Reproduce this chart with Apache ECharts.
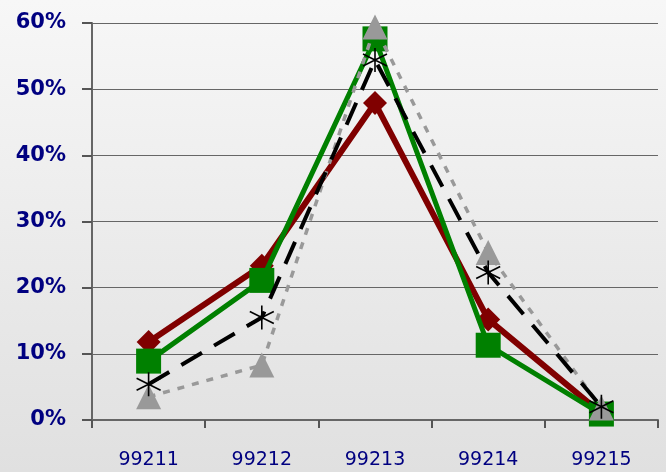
<!DOCTYPE html>
<html>
<head>
<meta charset="utf-8">
<script src="https://cdn.jsdelivr.net/npm/echarts@6/dist/echarts.min.js"></script>
<style>
  html, body { margin: 0; padding: 0; }
  #chart { width: 666px; height: 472px; }
</style>
</head>
<body>
<div id="chart"></div>
<script>
const categories = ['99211', '99212', '99213', '99214', '99215']
const yTicks = [0, 10, 20, 30, 40, 50, 60]
const redValues = [11.8, 23.3, 47.9, 15.2, 1.0]
const greenValues = [8.9, 21.1, 57.6, 11.3, 0.9]
const blackValues = [5.4, 15.5, 54.4, 22.3, 2.0]
const grayValues = [3.5, 8.3, 59.4, 25.3, 1.8]

const asterisk = 'path://M0,-12L0,12M-11,-6L11,6M-11,6L11,-6'

const chart = echarts.init(document.getElementById('chart'))

chart.setOption({
  animation: false,
  backgroundColor: {
    type: 'linear', x: 0, y: 0, x2: 0, y2: 1,
    colorStops: [
      { offset: 0, color: '#f7f7f7' },
      { offset: 1, color: '#e0e0e0' }
    ]
  },
  grid: { left: 92, right: 8, top: 23, bottom: 52 },
  xAxis: {
    type: 'category',
    data: categories,
    boundaryGap: true,
    axisLine: { lineStyle: { color: '#666', width: 2 } },
    axisTick: { show: true, length: 8, lineStyle: { color: '#555', width: 2 } },
    axisLabel: {
      margin: 31,
      color: '#000080',
      fontFamily: 'DejaVu Sans',
      fontSize: 19
    },
    splitLine: { show: false }
  },
  yAxis: {
    type: 'value',
    min: yTicks[0],
    max: yTicks[yTicks.length - 1],
    interval: 10,
    axisLine: { show: true, lineStyle: { color: '#666', width: 2 } },
    axisTick: { show: true, inside: false, length: 10, lineStyle: { color: '#555', width: 2 } },
    axisLabel: {
      margin: 26,
      formatter: '{value}%',
      color: '#000080',
      fontFamily: 'DejaVu Sans',
      fontWeight: 'bold',
      fontSize: 21
    },
    splitLine: { lineStyle: { color: '#666', width: 1 } }
  },
  series: [
    {
      type: 'line',
      data: redValues,
      symbol: 'diamond',
      symbolSize: 24,
      lineStyle: { color: '#800000', width: 6 },
      itemStyle: { color: '#800000' },
      z: 2
    },
    {
      type: 'line',
      data: greenValues,
      symbol: 'rect',
      symbolSize: 25,
      lineStyle: { color: '#008000', width: 5 },
      itemStyle: { color: '#008000' },
      z: 3
    },
    {
      type: 'line',
      data: grayValues,
      symbol: 'triangle',
      symbolSize: 25,
      lineStyle: { color: '#999999', width: 3.5, type: [7, 8] },
      itemStyle: { color: '#999999' },
      z: 4
    },
    {
      type: 'line',
      data: blackValues,
      symbol: asterisk,
      symbolSize: 24,
      lineStyle: { color: '#000000', width: 4, type: [24, 14] },
      itemStyle: { color: 'transparent', borderColor: '#000', borderWidth: 1.6 },
      z: 5
    }
  ]
})
</script>
</body>
</html>
